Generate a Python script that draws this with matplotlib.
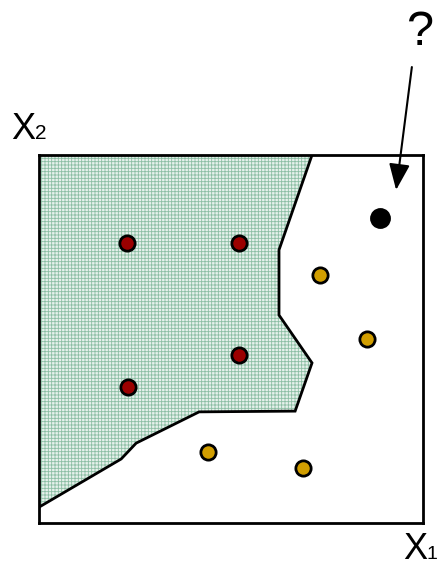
import matplotlib
matplotlib.use("Agg")
import matplotlib.pyplot as plt
from matplotlib.patches import Polygon, FancyArrowPatch

plt.rcParams['font.family'] = ['Liberation Sans', 'DejaVu Sans']
plt.rcParams['hatch.linewidth'] = 0.6

# --- data (box spans 0..10 on both axes) ---
boundary_x = [7.11, 6.25, 6.25, 7.11, 6.67, 4.17, 2.53, 2.14, 0.0]
boundary_y = [10.0, 7.42, 5.65, 4.35, 3.04, 3.02, 2.17, 1.74, 0.43]

red_x = [2.29, 5.21, 5.21, 2.32]
red_y = [7.61, 7.61, 4.57, 3.70]

yellow_x = [7.32, 8.54, 4.40, 6.88]
yellow_y = [6.74, 5.00, 1.93, 1.49]

query_x = [8.88]
query_y = [8.29]

arrow_start = (9.71, 12.39)
arrow_end = (9.30, 9.05)

W, H = 439, 567
fig = plt.figure(figsize=(W / 100, H / 100), dpi=100)
ax = fig.add_axes([39 / W, (H - 523) / H, 384 / W, 368 / H])
ax.set_xlim(0, 10)
ax.set_ylim(0, 10)
ax.set_xticks([])
ax.set_yticks([])
for s in ax.spines.values():
    s.set_linewidth(2.0)
    s.set_color('black')
    s.set_zorder(5)

# shaded region
poly_x = [0.0] + boundary_x + [0.0]
poly_y = [10.0] + boundary_y + [10.0]
region = Polygon(list(zip(poly_x, poly_y)), closed=True, facecolor='#e6f1eb',
                 edgecolor='#8cbea4', linewidth=0, hatch='+++++', zorder=1)
ax.add_patch(region)
ax.plot(boundary_x, boundary_y, color='black', lw=2.0, zorder=3,
        solid_joinstyle='miter')

ax.plot(red_x, red_y, 'o', ms=11, mfc='#9b0000', mec='black', mew=2.0,
        zorder=4, clip_on=False)
ax.plot(yellow_x, yellow_y, 'o', ms=11, mfc='#d19e00', mec='black', mew=2.0,
        zorder=4, clip_on=False)
ax.plot(query_x, query_y, 'o', ms=13, mfc='black', mec='black', mew=2.0,
        zorder=4, clip_on=False)

arr = FancyArrowPatch(arrow_start, arrow_end, transform=ax.transData,
                      arrowstyle='-|>,head_length=0.8,head_width=0.32',
                      mutation_scale=20, lw=1.5, color='black',
                      shrinkA=0, shrinkB=0, clip_on=False, zorder=6)
ax.add_artist(arr)

def fx(px):
    return px / W

def fy(py):
    return 1 - py / H

fig.text(fx(420), fy(45), '?', fontsize=35, ha='center', va='baseline')
fig.text(fx(11), fy(139), 'X', fontsize=26, ha='left', va='baseline')
fig.text(fx(35), fy(139), '2', fontsize=15, ha='left', va='baseline')
fig.text(fx(403), fy(559), 'X', fontsize=26, ha='left', va='baseline')
fig.text(fx(427), fy(559), '1', fontsize=14, ha='left', va='baseline')

fig.savefig('out.png', dpi=100)
